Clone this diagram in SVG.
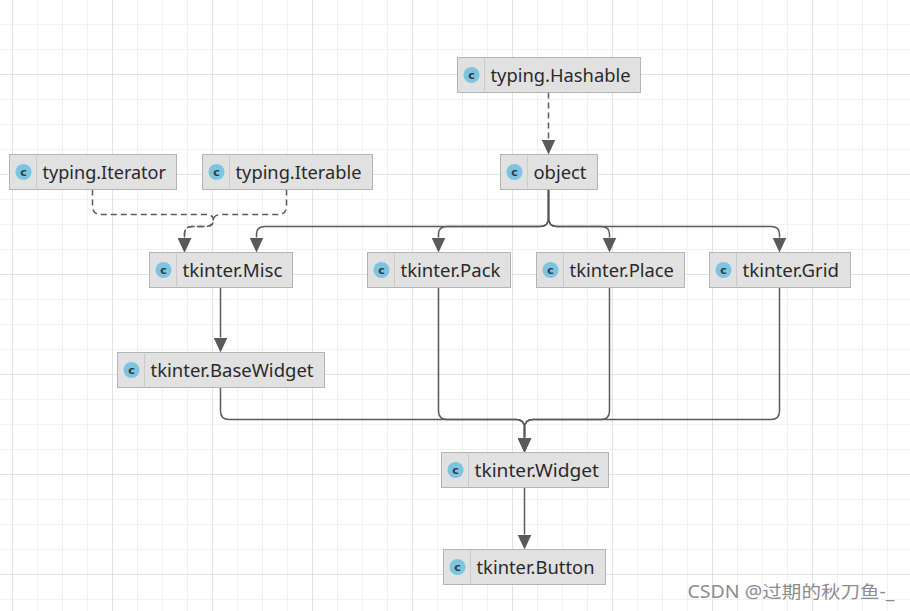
<svg xmlns="http://www.w3.org/2000/svg" width="910" height="611" viewBox="0 0 910 611">
<style>
.nb{fill:#e1e1e1;stroke:#b4b4b4;stroke-width:1}
.dv{stroke:#cacaca;stroke-width:1}
.ic{fill:#7cc4df}
.icl{font-family:"DejaVu Sans",sans-serif;font-size:11px;font-weight:bold;fill:#2e3b44;text-anchor:middle}
.lb{font-family:"Noto Sans","Open Sans",sans-serif;font-size:18px;fill:#2a2a2a}
.cn{fill:none;stroke:#5a5a5a;stroke-width:1.5}
.ds{stroke-dasharray:6,4}
</style>
<defs>
<pattern id="gMinor" patternUnits="userSpaceOnUse" x="12" y="24" width="25" height="25">
<rect x="0" y="0" width="1" height="25" fill="#f1f1f1"/>
<rect x="0" y="0" width="25" height="1" fill="#f1f1f1"/>
</pattern>
<pattern id="gMajor" patternUnits="userSpaceOnUse" x="12" y="74" width="100" height="100">
<rect x="0" y="0" width="1" height="100" fill="#e2e2e2"/>
<rect x="0" y="0" width="100" height="1" fill="#e2e2e2"/>
</pattern>
<marker id="ah" viewBox="0 0 15 14" refX="0" refY="7" markerWidth="15" markerHeight="14" markerUnits="userSpaceOnUse" orient="auto">
<path d="M0,0 L15,7 L0,14 z" fill="#5a5a5a"/>
</marker>
</defs>
<rect width="910" height="611" fill="#ffffff"/>
<rect width="910" height="611" fill="url(#gMinor)"/>
<rect width="910" height="611" fill="url(#gMajor)"/>

<g id="connectors">
<path class="cn ds" d="M548.5,92.5 V139.5" marker-end="url(#ah)"/>
<path class="cn ds" d="M92.5,189.5 V206 Q92.5,214.5 101,214.5 H205 Q213.5,214.5 213.5,220 Q213.5,226.5 205,226.5 H192 Q184.5,226.5 184.5,234 V237.5" marker-end="url(#ah)"/>
<path class="cn ds" d="M286.5,189.5 V206 Q286.5,214.5 278,214.5 H222 Q213.5,214.5 213.5,220 Q213.5,226.5 205,226.5 H192 Q184.5,226.5 184.5,234 V237.5" marker-end="url(#ah)"/>
<path class="cn" d="M548.5,189.5 V218 Q548.5,226.5 540,226.5 H265 Q256.5,226.5 256.5,234 V237.5" marker-end="url(#ah)"/>
<path class="cn" d="M548.5,189.5 V218 Q548.5,226.5 540,226.5 H447 Q438.5,226.5 438.5,234 V237.5" marker-end="url(#ah)"/>
<path class="cn" d="M548.5,189.5 V218 Q548.5,226.5 557,226.5 H601 Q609.5,226.5 609.5,234 V237.5" marker-end="url(#ah)"/>
<path class="cn" d="M548.5,189.5 V218 Q548.5,226.5 557,226.5 H771 Q779.5,226.5 779.5,234 V237.5" marker-end="url(#ah)"/>
<path class="cn" d="M220.5,287.5 V337.5" marker-end="url(#ah)"/>
<path class="cn" d="M220.5,387.5 V411 Q220.5,419.5 229,419.5 H516 Q524.5,419.5 524.5,428 V437.5" marker-end="url(#ah)"/>
<path class="cn" d="M438.5,287.5 V411 Q438.5,419.5 447,419.5 H516 Q524.5,419.5 524.5,428 V437.5" marker-end="url(#ah)"/>
<path class="cn" d="M609.5,287.5 V411 Q609.5,419.5 601,419.5 H533 Q524.5,419.5 524.5,428 V437.5" marker-end="url(#ah)"/>
<path class="cn" d="M779.5,287.5 V411 Q779.5,419.5 771,419.5 H533 Q524.5,419.5 524.5,428 V437.5" marker-end="url(#ah)"/>
<path class="cn" d="M524.5,487.5 V534.5" marker-end="url(#ah)"/>
</g>

<g id="typing-hashable">
<rect class="nb" x="457.5" y="57.5" width="183" height="35"/>
<circle class="ic" cx="471.5" cy="75" r="8"/><text class="icl" x="471.5" y="78.8">c</text>
<line class="dv" x1="484.5" y1="58.5" x2="484.5" y2="91.5"/>
<text class="lb" x="490.5" y="81.5" textLength="140" lengthAdjust="spacingAndGlyphs">typing.Hashable</text>
</g>
<g id="object">
<rect class="nb" x="500.5" y="154.5" width="97" height="35"/>
<circle class="ic" cx="514.5" cy="172" r="8"/><text class="icl" x="514.5" y="175.8">c</text>
<line class="dv" x1="527.5" y1="155.5" x2="527.5" y2="188.5"/>
<text class="lb" x="533.5" y="178.5" textLength="53" lengthAdjust="spacingAndGlyphs">object</text>
</g>
<g id="typing-iterator">
<rect class="nb" x="9.5" y="154.5" width="167" height="35"/>
<circle class="ic" cx="23.5" cy="172" r="8"/><text class="icl" x="23.5" y="175.8">c</text>
<line class="dv" x1="36.5" y1="155.5" x2="36.5" y2="188.5"/>
<text class="lb" x="42.5" y="178.5" textLength="123.5" lengthAdjust="spacingAndGlyphs">typing.Iterator</text>
</g>
<g id="typing-iterable">
<rect class="nb" x="202.5" y="154.5" width="170" height="35"/>
<circle class="ic" cx="216.5" cy="172" r="8"/><text class="icl" x="216.5" y="175.8">c</text>
<line class="dv" x1="229.5" y1="155.5" x2="229.5" y2="188.5"/>
<text class="lb" x="235.5" y="178.5" textLength="126" lengthAdjust="spacingAndGlyphs">typing.Iterable</text>
</g>
<g id="tkinter-misc">
<rect class="nb" x="149.5" y="252.5" width="143" height="35"/>
<circle class="ic" cx="163.5" cy="270" r="8"/><text class="icl" x="163.5" y="273.8">c</text>
<line class="dv" x1="176.5" y1="253.5" x2="176.5" y2="286.5"/>
<text class="lb" x="182.5" y="276.5" textLength="100" lengthAdjust="spacingAndGlyphs">tkinter.Misc</text>
</g>
<g id="tkinter-pack">
<rect class="nb" x="367.5" y="252.5" width="143" height="35"/>
<circle class="ic" cx="381.5" cy="270" r="8"/><text class="icl" x="381.5" y="273.8">c</text>
<line class="dv" x1="394.5" y1="253.5" x2="394.5" y2="286.5"/>
<text class="lb" x="400.5" y="276.5" textLength="100" lengthAdjust="spacingAndGlyphs">tkinter.Pack</text>
</g>
<g id="tkinter-place">
<rect class="nb" x="536.5" y="252.5" width="148" height="35"/>
<circle class="ic" cx="550.5" cy="270" r="8"/><text class="icl" x="550.5" y="273.8">c</text>
<line class="dv" x1="563.5" y1="253.5" x2="563.5" y2="286.5"/>
<text class="lb" x="569.5" y="276.5" textLength="104.5" lengthAdjust="spacingAndGlyphs">tkinter.Place</text>
</g>
<g id="tkinter-grid">
<rect class="nb" x="709.5" y="252.5" width="141" height="35"/>
<circle class="ic" cx="723.5" cy="270" r="8"/><text class="icl" x="723.5" y="273.8">c</text>
<line class="dv" x1="736.5" y1="253.5" x2="736.5" y2="286.5"/>
<text class="lb" x="742.5" y="276.5" textLength="96.5" lengthAdjust="spacingAndGlyphs">tkinter.Grid</text>
</g>
<g id="tkinter-basewidget">
<rect class="nb" x="117.5" y="352.5" width="207" height="35"/>
<circle class="ic" cx="131.5" cy="370" r="8"/><text class="icl" x="131.5" y="373.8">c</text>
<line class="dv" x1="144.5" y1="353.5" x2="144.5" y2="386.5"/>
<text class="lb" x="150.5" y="376.5" textLength="163" lengthAdjust="spacingAndGlyphs">tkinter.BaseWidget</text>
</g>
<g id="tkinter-widget">
<rect class="nb" x="441.5" y="452.5" width="167" height="35"/>
<circle class="ic" cx="455.5" cy="470" r="8"/><text class="icl" x="455.5" y="473.8">c</text>
<line class="dv" x1="468.5" y1="453.5" x2="468.5" y2="486.5"/>
<text class="lb" x="474.5" y="476.5" textLength="124.5" lengthAdjust="spacingAndGlyphs">tkinter.Widget</text>
</g>
<g id="tkinter-button">
<rect class="nb" x="443.5" y="549.5" width="162" height="35"/>
<circle class="ic" cx="457.5" cy="567" r="8"/><text class="icl" x="457.5" y="570.8">c</text>
<line class="dv" x1="470.5" y1="550.5" x2="470.5" y2="583.5"/>
<text class="lb" x="476.5" y="573.5" textLength="118" lengthAdjust="spacingAndGlyphs">tkinter.Button</text>
</g>

<text x="687.5" y="597.5" font-family="'Noto Sans','Noto Sans CJK SC',sans-serif" font-size="17.5" fill="#8c8c8c" textLength="207" lengthAdjust="spacingAndGlyphs">CSDN @过期的秋刀鱼-_</text>
</svg>
